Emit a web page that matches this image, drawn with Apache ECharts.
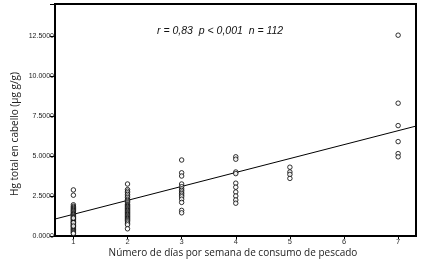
<!DOCTYPE html>
<html><head><meta charset="utf-8">
<script src="https://cdn.jsdelivr.net/npm/echarts@6/dist/echarts.min.js"></script>
<style>html,body{margin:0;padding:0;background:#fff}#c{width:427px;height:264px}</style>
</head><body><div id="c"></div>
<script>
const days1 = [2.88, 2.55, 1.95, 1.86, 1.79, 1.72, 1.66, 1.6, 1.55, 1.5, 1.44, 1.4, 1.35, 1.3, 1.24, 1.2, 1.15, 1.1, 1.04, 1.0, 0.95, 0.9, 0.86, 0.8, 0.75, 0.7, 0.66, 0.6, 0.55, 0.5, 0.45, 0.4, 0.36, 0.3, 0.25, 0.2, 0.15, 0.83, 1.12, 0.62];
const days2 = [3.25, 2.9, 2.8, 2.7, 2.6, 2.5, 2.4, 2.3, 2.22, 2.15, 2.08, 2.0, 1.95, 1.9, 1.85, 1.8, 1.75, 1.7, 1.65, 1.6, 1.55, 1.5, 1.45, 1.4, 1.35, 1.3, 1.25, 1.2, 1.15, 1.1, 1.05, 1.0, 0.95, 0.88, 0.8, 0.7, 0.45];
const days3 = [4.75, 3.95, 3.75, 3.25, 3.08, 2.95, 2.85, 2.75, 2.65, 2.55, 2.45, 2.3, 2.1, 1.6, 1.45];
const days4 = [4.95, 4.8, 4.0, 3.9, 3.3, 3.05, 2.75, 2.5, 2.25, 2.05];
const days5 = [4.3, 4.0, 3.85, 3.6];
const days7 = [12.55, 8.3, 6.9, 5.9, 5.15, 4.95];
const xTicks = [1, 2, 3, 4, 5, 6, 7];
const fitX = [0.66, 7.33];
const fitY = [1.06, 6.87];
const annotation = 'r = 0,83  p < 0,001  n = 112';
const xTitle = 'Número de días por semana de consumo de pescado';
const yTitle = 'Hg total en cabello (µg g/g)';

const groups = [[1, days1], [2, days2], [3, days3], [4, days4], [5, days5], [7, days7]];
const pts = [];
groups.forEach(([d, arr]) => arr.forEach(v => pts.push([d, v])));

const G = {left: 55, right: 11, top: 4, bottom: 28};

const chart = echarts.init(document.getElementById('c'), null, {renderer: 'canvas'});
chart.setOption({
  animation: false,
  backgroundColor: '#fff',
  grid: Object.assign({show: true, borderColor: '#000', borderWidth: 2, backgroundColor: 'transparent'}, G),
  xAxis: {
    type: 'value', min: 0.66, max: 7.33,
    splitLine: {show: false},
    axisLine: {show: true, lineStyle: {color: '#000', width: 1}},
    axisTick: {show: true, length: 3, inside: false, customValues: xTicks, lineStyle: {color: '#000'}},
    axisLabel: {customValues: xTicks, fontSize: 7.5, color: '#333', margin: 2, fontFamily: 'Liberation Sans'}
  },
  yAxis: {
    type: 'value', min: 0, max: 14.5, interval: 2.5,
    splitLine: {show: false},
    axisLine: {show: true, lineStyle: {color: '#000', width: 1}},
    axisTick: {show: true, length: 5, lineStyle: {color: '#000'}},
    axisLabel: {fontSize: 7, color: '#222', margin: 1, fontFamily: 'Liberation Sans',
      formatter: v => (Math.abs(v / 2.5 - Math.round(v / 2.5)) < 1e-6) ? v.toFixed(4) : ''}
  },
  graphic: [
    {type: 'text', left: 157, top: 26, style: {text: annotation, font: 'italic 10.5px "Liberation Sans"', fill: '#111'}},
    {type: 'text', x: 233, y: 253, style: {text: xTitle, font: '10px "Open Sans"', fill: '#222', align: 'center', verticalAlign: 'middle'}},
    {type: 'text', x: 15, y: 134, rotation: Math.PI / 2, style: {text: yTitle, font: '10px "Open Sans"', fill: '#222', align: 'center', verticalAlign: 'middle'}}
  ],
  series: [
    {type: 'scatter', data: pts, symbol: 'circle', symbolSize: 4.5,
      itemStyle: {color: '#fff', borderColor: '#000', borderWidth: 1}, z: 3},
    {type: 'line', data: fitX.map((x, i) => [x, fitY[i]]), symbol: 'none',
      lineStyle: {color: '#000', width: 1}, z: 2}
  ]
});
</script></body></html>
